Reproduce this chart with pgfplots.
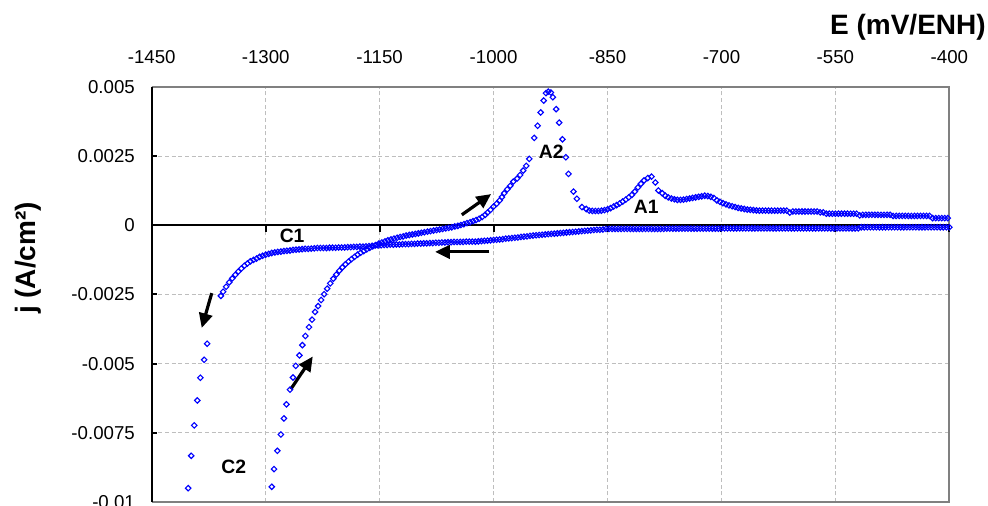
\documentclass[border=0pt]{standalone}
\usepackage{pgfplots}
\pgfplotsset{compat=1.18}
\usepackage{fontspec}
\setmainfont{Liberation Sans}
\usetikzlibrary{arrows.meta}
\definecolor{xlblue}{RGB}{0,0,255}
\definecolor{gridgray}{RGB}{190,190,190}
\definecolor{framegray}{RGB}{128,128,128}
\pgfplotsset{cvmark/.style={only marks, mark=square, mark size=1.45pt, mark options={draw=xlblue, line width=0.85pt, rotate=45}}}
\begin{document}
\begin{tikzpicture}
\useasboundingbox (0,0) rectangle (741pt,379.5pt);
\begin{axis}[
  at={(113.8pt,3pt)}, anchor=south west,
  width=598.2pt, height=311.25pt, scale only axis,
  xmin=-1450, xmax=-400, ymin=-0.01, ymax=0.005,
  scaled y ticks=false, scaled x ticks=false,
  xtick={-1450,-1300,-1150,-1000,-850,-700,-550,-400},
  xticklabels={-1450,-1300,-1150,-1000,-850,-700,-550,-400},
  ytick={-0.01,-0.0075,-0.005,-0.0025,0,0.0025,0.005},
  yticklabels={-0.01,-0.0075,-0.005,-0.0025,0,0.0025,0.005},
  xticklabel pos=upper,
  ytick pos=left,
  tick align=inside,
  xtick style={draw=none},
  ytick style={black, line width=1.5pt},
  major tick length=4pt,
  xticklabel style={font=\fontsize{14}{16}\selectfont, anchor=base, inner sep=0pt, yshift=17.8pt},
  yticklabel style={font=\fontsize{14}{16}\selectfont, anchor=east, inner sep=0pt, xshift=-12.5pt},
  grid=major,
  major grid style={dash pattern=on 3pt off 2pt, line width=0.6pt, color=gridgray},
  axis line style={draw=none},
  clip=false,
]
% frame
\draw[framegray, line width=1.5pt] (rel axis cs:0,1) -- (rel axis cs:1,1) -- (rel axis cs:1,0) -- (rel axis cs:0,0);
\draw[black, line width=1.5pt] (rel axis cs:0,0) -- (rel axis cs:0,1);
% zero line with ticks
\draw[black, line width=1.5pt] (axis cs:-1450,0) -- (axis cs:-400,0);
\pgfplotsinvokeforeach{-1300,-1150,-1000,-850,-700,-550,-400}{
  \draw[black, line width=1.5pt] (axis cs:#1,0) -- ++(0pt,-5pt);
}
% cathodic scan
\addplot[cvmark] coordinates {
(-400,-0.00007) (-404,-0.00007) (-408,-0.00007) (-412,-0.00007) (-416,-0.00007) (-420,-0.00007) (-424,-0.00007) (-428,-0.00007) (-432,-0.00007) (-436,-0.00007)
(-440,-0.00007) (-444,-0.00007) (-448,-0.00007) (-452,-0.00007) (-456,-0.00007) (-460,-0.00007) (-464,-0.00007) (-468,-0.00007) (-472,-0.00007) (-476,-0.00007)
(-480,-0.00007) (-484,-0.00007) (-488,-0.00007) (-492,-0.00007) (-496,-0.00007) (-500,-0.00007) (-504,-0.00007) (-508,-0.00007) (-512,-0.00007) (-516,-0.00007)
(-520,-0.00011) (-524,-0.00011) (-528,-0.00011) (-532,-0.00011) (-536,-0.00011) (-540,-0.00011) (-544,-0.00011) (-548,-0.00011) (-552,-0.00011) (-556,-0.00011)
(-560,-0.00011) (-564,-0.00011) (-568,-0.00011) (-572,-0.00011) (-576,-0.00011) (-580,-0.00011) (-584,-0.00011) (-588,-0.00011) (-592,-0.00011) (-596,-0.00011)
(-600,-0.00011) (-604,-0.00011) (-608,-0.00011) (-612,-0.00011) (-616,-0.00011) (-620,-0.00011) (-624,-0.00011) (-628,-0.00011) (-632,-0.00011) (-636,-0.00011)
(-640,-0.00011) (-644,-0.00011) (-648,-0.00011) (-652,-0.00011) (-656,-0.00011) (-660,-0.00011) (-664,-0.00011) (-668,-0.00011) (-672,-0.00011) (-676,-0.00011)
(-680,-0.00011) (-684,-0.00011) (-688,-0.00011) (-692,-0.00011) (-696,-0.00011) (-700,-0.00011)
(-704,-0.00012) (-708,-0.00012) (-712,-0.00012) (-716,-0.00012) (-720,-0.00012) (-724,-0.00012) (-728,-0.00012) (-732,-0.00012) (-736,-0.00012) (-740,-0.00012)
(-744,-0.00012) (-748,-0.00012) (-752,-0.00012) (-756,-0.00012) (-760,-0.00012) (-764,-0.00012) (-768,-0.00012) (-772,-0.00012)
(-776,-0.00013) (-780,-0.00013) (-784,-0.00013) (-788,-0.00013) (-792,-0.00013) (-796,-0.00013) (-800,-0.00013) (-804,-0.00013) (-808,-0.00013) (-812,-0.00013)
(-816,-0.00013) (-820,-0.00013) (-824,-0.00013) (-828,-0.00013) (-832,-0.00013) (-836,-0.00013) (-840,-0.00013) (-844,-0.00013) (-848,-0.00013) (-852,-0.00013)
(-856,-0.00015) (-860,-0.00016) (-864,-0.00016) (-868,-0.00017) (-872,-0.00018) (-876,-0.00019) (-880,-0.0002) (-884,-0.00021) (-888,-0.00022) (-892,-0.00023)
(-896,-0.00024) (-900,-0.00025) (-904,-0.00026) (-908,-0.00027) (-912,-0.00028) (-916,-0.00029) (-920,-0.0003) (-924,-0.00031) (-928,-0.00032) (-932,-0.00033)
(-936,-0.00034) (-940,-0.00035) (-944,-0.00036) (-948,-0.00037) (-952,-0.00038) (-956,-0.0004) (-960,-0.00041) (-964,-0.00042) (-968,-0.00044) (-972,-0.00045)
(-976,-0.00046) (-980,-0.00047) (-984,-0.00048) (-988,-0.0005) (-992,-0.00051) (-996,-0.00052) (-1000,-0.00053) (-1004,-0.00054) (-1008,-0.00055) (-1012,-0.00056)
(-1016,-0.00057) (-1020,-0.00058) (-1024,-0.00059) (-1028,-0.00059) (-1032,-0.00059) (-1036,-0.00059) (-1040,-0.0006) (-1044,-0.0006) (-1048,-0.0006) (-1052,-0.0006)
(-1056,-0.00061) (-1060,-0.00061) (-1064,-0.00062) (-1068,-0.00062) (-1072,-0.00063) (-1076,-0.00063) (-1080,-0.00064) (-1084,-0.00064) (-1088,-0.00065) (-1092,-0.00065)
(-1096,-0.00066) (-1100,-0.00066) (-1104,-0.00067) (-1108,-0.00067) (-1112,-0.00068) (-1116,-0.00068) (-1120,-0.00068) (-1124,-0.00069) (-1128,-0.00069) (-1132,-0.0007)
(-1136,-0.0007) (-1140,-0.00071) (-1144,-0.00071) (-1148,-0.00072) (-1152,-0.00073) (-1156,-0.00073) (-1160,-0.00074) (-1164,-0.00075) (-1168,-0.00076) (-1172,-0.00077)
(-1176,-0.00077) (-1180,-0.00078) (-1184,-0.00078) (-1188,-0.00079) (-1192,-0.00079) (-1196,-0.0008) (-1200,-0.0008) (-1204,-0.0008) (-1208,-0.00081) (-1212,-0.00081)
(-1216,-0.00081) (-1220,-0.00082) (-1224,-0.00082) (-1228,-0.00082) (-1232,-0.00082) (-1236,-0.00083) (-1240,-0.00084) (-1244,-0.00085) (-1248,-0.00085) (-1252,-0.00086)
(-1256,-0.00087) (-1260,-0.00088) (-1264,-0.00089) (-1268,-0.00091) (-1272,-0.00092) (-1276,-0.00093) (-1280,-0.00095) (-1284,-0.00096) (-1288,-0.00098) (-1292,-0.001)
(-1296,-0.00103) (-1300,-0.00106) (-1304,-0.0011) (-1308,-0.00114) (-1312,-0.0012) (-1316,-0.00125) (-1320,-0.0013) (-1324,-0.00138) (-1328,-0.00146) (-1332,-0.00156)
(-1336,-0.00167) (-1340,-0.00179) (-1344,-0.00192) (-1348,-0.00206) (-1352,-0.00222) (-1356,-0.0024) (-1359,-0.00255)
(-1377,-0.00428) (-1381,-0.00486) (-1386,-0.00551) (-1390,-0.00633) (-1394,-0.00723) (-1398,-0.00833) (-1402,-0.0095)
};
% anodic scan
\addplot[cvmark] coordinates {
(-1292,-0.00945) (-1289,-0.00881) (-1284.6,-0.00815) (-1280,-0.00756) (-1276,-0.00698) (-1272.7,-0.00647) (-1268,-0.00594) (-1264,-0.0055) (-1260.4,-0.00508) (-1255.6,-0.0047)
(-1251.7,-0.00433) (-1247.7,-0.004) (-1243,-0.00368) (-1239,-0.00341) (-1235,-0.00313) (-1231,-0.00292) (-1227,-0.0027) (-1223,-0.00249) (-1219,-0.00229) (-1215,-0.0021)
(-1211,-0.00193) (-1207,-0.00178) (-1203,-0.00164) (-1199,-0.00152) (-1195,-0.00141) (-1191,-0.00131) (-1187,-0.00122) (-1183,-0.00114) (-1179,-0.00106) (-1175,-0.00099)
(-1171,-0.00093) (-1167,-0.00087) (-1163,-0.00081) (-1159,-0.00076) (-1155,-0.00071) (-1151,-0.00066) (-1147,-0.00062) (-1143,-0.00058) (-1139,-0.00054) (-1135,-0.00051)
(-1131,-0.00048) (-1127,-0.00045) (-1123,-0.00042) (-1119,-0.0004) (-1115,-0.00037) (-1111,-0.00035) (-1107,-0.00033) (-1103,-0.00031) (-1099,-0.00029) (-1095,-0.00027)
(-1091,-0.00025) (-1087,-0.00023) (-1083,-0.00021) (-1079,-0.00019) (-1075,-0.00017) (-1071,-0.00015) (-1067,-0.00013) (-1063,-0.00011) (-1059,-0.00009) (-1055,-0.00007)
(-1051,-0.00004) (-1047,-0.00002) (-1043,0.00001) (-1039,0.00004) (-1035,0.00008) (-1031,0.00011) (-1027,0.00015) (-1023,0.00019) (-1019,0.00024) (-1015,0.0003)
(-1011,0.00038) (-1008,0.00046) (-1004,0.00056) (-1000,0.00068) (-996,0.00078) (-992,0.0009) (-989,0.00102) (-986,0.00116) (-982,0.0013) (-978,0.00143)
(-974,0.00158) (-969,0.00169) (-965,0.00182) (-961,0.00198) (-957,0.00215) (-953,0.0024) (-946.5,0.00316) (-942,0.0036) (-938,0.00408) (-934,0.00451)
(-931,0.00478) (-928,0.00483) (-924.5,0.0048) (-922,0.00463) (-917.6,0.0042) (-913.6,0.00371) (-909.3,0.00311) (-904.8,0.00246) (-901.4,0.00186) (-894.8,0.00122)
(-890.3,0.00096) (-883.7,0.00066) (-878,0.00059) (-874,0.00053) (-870,0.00052) (-866,0.00052) (-862,0.00052) (-858,0.00053) (-854,0.00055) (-850,0.00058)
(-846,0.00062) (-842,0.00068) (-838,0.00073) (-834,0.00079) (-830,0.00086) (-826,0.00093) (-822,0.00101) (-818,0.0011) (-814,0.00122) (-810,0.00137)
(-806,0.0015) (-802,0.00162) (-797,0.00171) (-792,0.00176) (-787,0.00155) (-783,0.00126) (-778,0.00116) (-774,0.00107) (-770,0.00101) (-766,0.00097)
(-762,0.00094) (-758,0.00092) (-754,0.00092) (-750,0.00093) (-746,0.00095) (-742,0.00097) (-738,0.00099) (-734,0.00101) (-730,0.00103) (-726,0.00105)
(-722,0.00107) (-718,0.00106) (-714,0.00103) (-710,0.00099) (-706,0.0009) (-702,0.00085) (-698,0.0008) (-694,0.00076) (-690,0.00072) (-686,0.00069)
(-682,0.00066) (-678,0.00063) (-674,0.00061) (-670,0.00059) (-666,0.00057) (-662,0.00056) (-658,0.00055) (-654,0.00054)
(-650,0.00053) (-646,0.00053) (-642,0.00053) (-638,0.00053) (-634,0.00053) (-630,0.00053) (-626,0.00053) (-622,0.00053) (-618,0.00053) (-614,0.00053)
(-610,0.00046) (-606,0.0005) (-602,0.0005) (-598,0.0005) (-594,0.0005) (-590,0.0005) (-586,0.0005) (-582,0.0005) (-578,0.0005) (-574,0.0005)
(-570,0.00047) (-566,0.00047) (-562,0.00042) (-558,0.00042) (-554,0.00042) (-550,0.00042) (-546,0.00042) (-542,0.00042) (-538,0.00042) (-534,0.00042)
(-530,0.00042) (-526,0.00042) (-522,0.00042) (-518,0.00036) (-514,0.00038) (-510,0.00038) (-506,0.00038) (-502,0.00038) (-498,0.00038) (-494,0.00038)
(-490,0.00038) (-486,0.00038) (-482,0.00038) (-478,0.00038) (-474,0.00034) (-470,0.00034) (-466,0.00034) (-462,0.00034) (-458,0.00034) (-454,0.00034)
(-450,0.00034) (-446,0.00034) (-442,0.00034) (-438,0.00034) (-434,0.00034) (-430,0.00034) (-426,0.00034) (-422,0.00026) (-418,0.00026) (-414,0.00026)
(-410,0.00026) (-406,0.00026) (-402,0.00026)
};
% arrows
\draw[black, line width=2.4pt, -{Triangle[length=11pt,width=10pt]}] (axis cs:-1371,-0.00245) -- (axis cs:-1384.2,-0.00371);
\draw[black, line width=2.4pt, -{Triangle[length=11pt,width=10pt]}] (axis cs:-1266.9,-0.00592) -- (axis cs:-1238,-0.00474);
\draw[black, line width=2.4pt, -{Triangle[length=11pt,width=10pt]}] (axis cs:-1041.8,0.00038) -- (axis cs:-1003.2,0.00113);
\draw[black, line width=2.4pt, -{Triangle[length=11pt,width=10pt]}] (axis cs:-1005.4,-0.00096) -- (axis cs:-1076.9,-0.00096);
% peak labels
\node[font=\bfseries\fontsize{14.5}{16}\selectfont, inner sep=0pt] at (axis cs:-924.2,0.002656) {A2};
\node[font=\bfseries\fontsize{14.5}{16}\selectfont, inner sep=0pt] at (axis cs:-799,0.000668) {A1};
\node[font=\bfseries\fontsize{14.5}{16}\selectfont, inner sep=0pt] at (axis cs:-1265.2,-0.000379) {C1};
\node[font=\bfseries\fontsize{14.5}{16}\selectfont, inner sep=0pt] at (axis cs:-1342,-0.008715) {C2};
\end{axis}
\node[anchor=base east, font=\bfseries\fontsize{21}{25}\selectfont, inner sep=0pt] at (739.5pt,353.25pt) {E (mV/ENH)};
\node[rotate=90, anchor=base, font=\bfseries\fontsize{21}{25}\selectfont, inner sep=0pt] at (27pt,186pt) {j (A/cm²)};
\end{tikzpicture}
\end{document}
